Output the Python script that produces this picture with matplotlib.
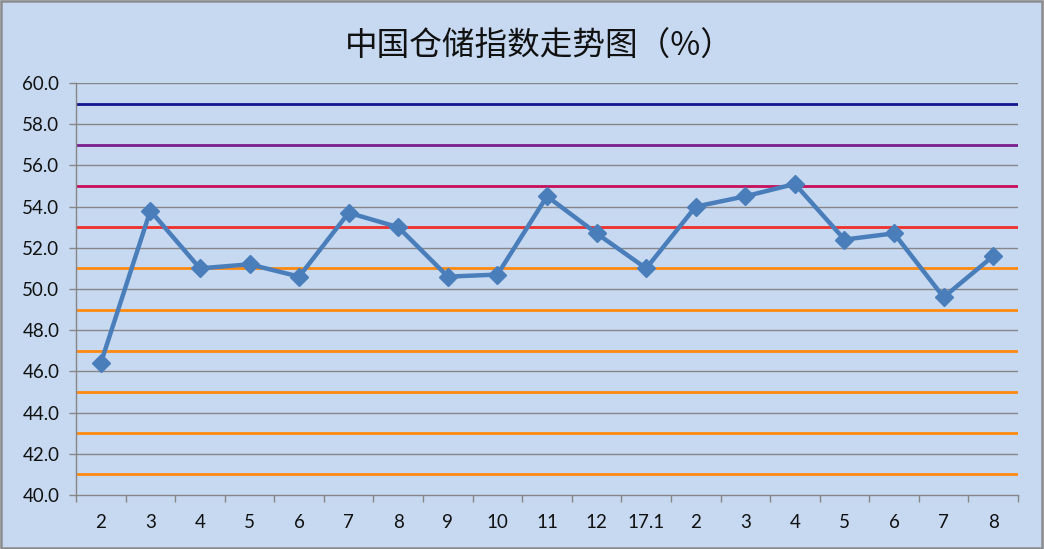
import matplotlib
matplotlib.use("Agg")
import matplotlib.pyplot as plt
import numpy as np

# ---- data ----
categories = ["2", "3", "4", "5", "6", "7", "8", "9", "10", "11", "12",
              "17.1", "2", "3", "4", "5", "6", "7", "8"]
index_values = [46.4, 53.8, 51.0, 51.2, 50.6, 53.7, 53.0, 50.6, 50.7, 54.5,
                52.7, 51.0, 54.0, 54.5, 55.1, 52.4, 52.7, 49.6, 51.6]
ref_levels = [59, 57, 55, 53, 51, 49, 47, 45, 43, 41]
ref_colors = ["#14148C", "#7A1E8E", "#C8105A", "#F0302A",
              "#FF8A10", "#FF8A10", "#FF8A10", "#FF8A10", "#FF8A10", "#FF8A10"]
y_ticks = [40, 42, 44, 46, 48, 50, 52, 54, 56, 58, 60]
title = "中国仓储指数走势图（%）"

BG = "#C6D9F1"
GRID = "#868686"

fig = plt.figure(figsize=(10.44, 5.49), dpi=100, facecolor=BG)
fig.patches.append(plt.Rectangle((0.001, 0.002), 0.997, 0.996, transform=fig.transFigure,
                                 fill=False, edgecolor="#8C8C8C", linewidth=1.8, zorder=10))
ax = fig.add_axes([0.0728, 0.0984, 0.9023, 0.7504], facecolor=BG)

x = np.arange(len(categories))

# gridlines
for yv in y_ticks[1:]:
    ax.axhline(yv, color=GRID, linewidth=1.0, zorder=1)
# reference lines
for lv, c in zip(ref_levels, ref_colors):
    ax.axhline(lv, color=c, linewidth=2.0, zorder=2)

ax.plot(x, index_values, color="#4A7EBB", linewidth=3.2, marker="D",
        markersize=9, markerfacecolor="#4A7EBB", markeredgecolor="#4A7EBB",
        zorder=5, solid_joinstyle="round")

ax.set_xlim(-0.5, len(categories) - 0.5)
ax.set_ylim(40, 60)
ax.set_yticks(y_ticks)
ax.set_yticklabels([f"{v:.1f}" for v in y_ticks])
ax.set_xticks(x)
ax.set_xticklabels(categories)
ax.set_xticks(np.arange(-0.5, len(categories)), minor=True)

for s in ["top", "right"]:
    ax.spines[s].set_visible(False)
for s in ["left", "bottom"]:
    ax.spines[s].set_color(GRID)
    ax.spines[s].set_linewidth(1.0)

ax.tick_params(axis="x", which="major", length=0, pad=14, labelsize=13.5,
               labelcolor="#111111")
ax.tick_params(axis="x", which="minor", length=5, color=GRID, width=1.0)
ax.tick_params(axis="y", which="major", length=5, color=GRID, width=1.0, pad=7,
               labelsize=13.5, labelcolor="#111111")
for lab in ax.get_xticklabels() + ax.get_yticklabels():
    lab.set_family(["Lato", "DejaVu Sans"])

fig.text(0.517, 0.915, title, ha="center", va="center", fontsize=23.5,
         family=["Noto Sans CJK SC", "DejaVu Sans"], fontweight="light", color="#111111")

fig.savefig("out.png", dpi=100, facecolor=BG)
